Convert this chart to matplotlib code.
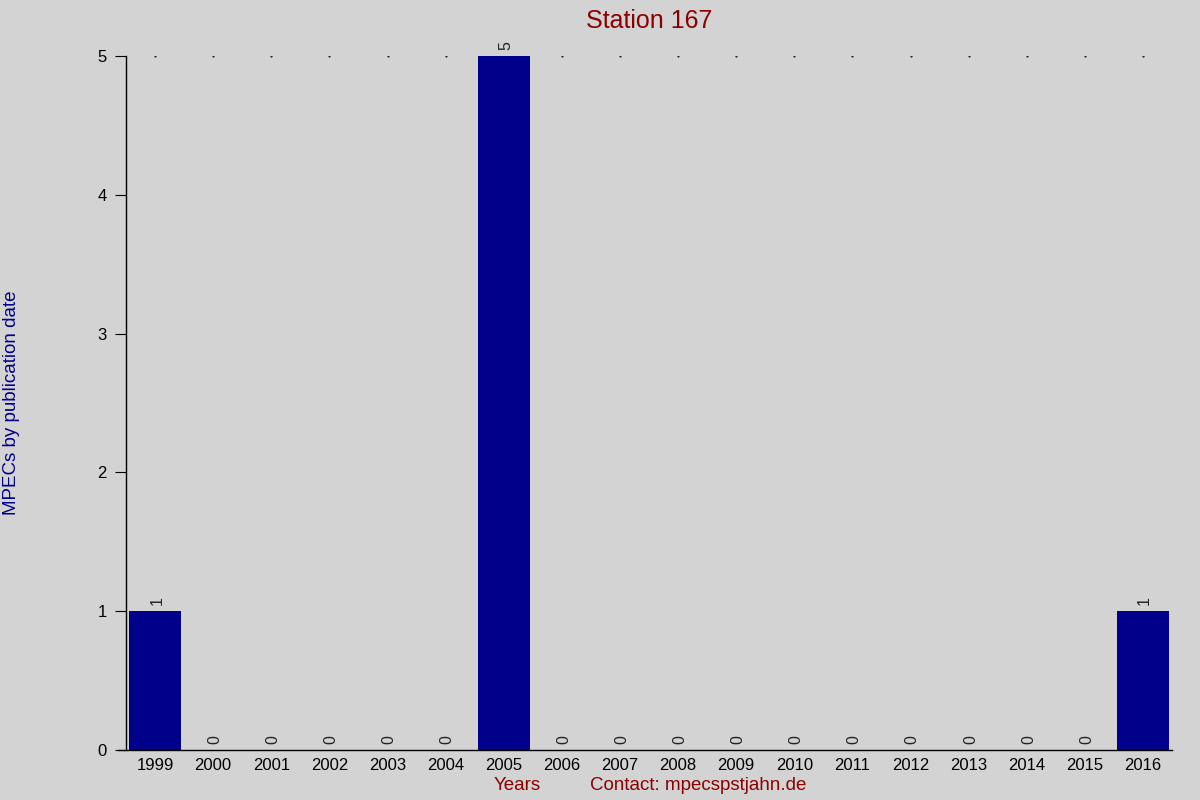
import matplotlib
matplotlib.use("Agg")
import matplotlib.pyplot as plt

plt.rcParams['font.family'] = ['Liberation Sans', 'DejaVu Sans']

years = ["1999", "2000", "2001", "2002", "2003", "2004", "2005", "2006", "2007",
         "2008", "2009", "2010", "2011", "2012", "2013", "2014", "2015", "2016"]
counts = [1, 0, 0, 0, 0, 0, 5, 0, 0, 0, 0, 0, 0, 0, 0, 0, 0, 1]

bg = "#d3d3d3"
fig = plt.figure(figsize=(12, 8), dpi=100, facecolor=bg)
ax = fig.add_axes([0.105, 0.0625, 0.8717, 0.8675], facecolor=bg)

x = list(range(len(years)))
ax.bar(x, counts, width=0.9, color="#00008b", zorder=2)
for xi, c in zip(x, counts):
    ax.text(xi + 0.03, c + 0.045, str(c), rotation=90, ha="center", va="bottom",
            fontsize=11.5, color="#222222")
ax.plot(x, [5] * len(x), linestyle="none", marker=".", markersize=1.0,
        color="black", zorder=1)

ax.set_xlim(-0.5, len(years) - 0.5)
ax.set_ylim(0, 5)
ax.set_xticks(x)
ax.set_xticklabels(years, fontsize=12)
ax.tick_params(axis="x", length=0, pad=6)
ax.set_yticks([0, 1, 2, 3, 4, 5])
ax.tick_params(axis="y", length=8, direction="out", labelsize=12, pad=6)
for s in ["top", "right"]:
    ax.spines[s].set_visible(False)
ax.spines["bottom"].set_bounds(-0.64, len(years) - 0.5)
ax.spines["left"].set_linewidth(1)
ax.spines["bottom"].set_linewidth(1)

fig.text(0.541, 0.9735, "Station 167", ha="center", va="center",
         fontsize=18, color="#8b0000")
fig.text(0.010, 0.496, "MPECs by publication date", rotation=90,
         ha="center", va="center", fontsize=13.5, color="#00008b")
fig.text(0.431, 0.018, "Years", ha="center", va="center",
         fontsize=13.5, color="#8b0000")
fig.text(0.582, 0.018, "Contact: mpecspstjahn.de", ha="center", va="center",
         fontsize=13.5, color="#8b0000")

fig.savefig("out.png", dpi=100, facecolor=bg)
